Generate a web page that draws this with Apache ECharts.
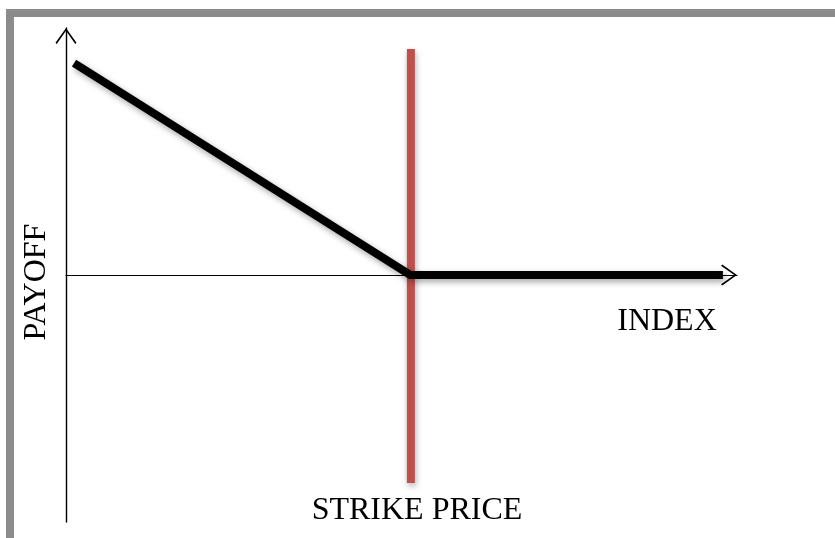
<!DOCTYPE html>
<html>
<head>
<meta charset="utf-8">
<script src="https://cdn.jsdelivr.net/npm/echarts@6/dist/echarts.min.js"></script>
<style>
  body { margin: 0; background: #fff; }
  #chart { position: absolute; left: 0; top: 0; width: 835px; height: 538px; }
  #frame { position: absolute; left: 6px; top: 9px; right: 0; bottom: 0;
           border-top: 8px solid #8c8c8c; border-left: 8px solid #8c8c8c; pointer-events: none; }
</style>
</head>
<body>
<div id="chart"></div>
<div id="frame"></div>
<script>
// payoff of a long put: falls to zero at the strike, flat after it
var payoffX = [1.2, 51.3, 97.9];
var payoffY = [8.58, 0, 0];
// vertical marker at the strike
var strikeX = [51.4, 51.4];
var strikeY = [9.15, -8.42];

var labels = ['PAYOFF', 'INDEX', 'STRIKE PRICE'];

function pairs(xs, ys) {
	var out = [];
	for (var i = 0; i < xs.length; i++) out.push([xs[i], ys[i]]);
	return out;
}

var arrowPath = 'path://M10 0 L20 14 L18.8 15.2 L10 2.6 L1.2 15.2 L0 14 Z';
var labelFont = '32px "Liberation Serif"';

var myChart = echarts.init(document.getElementById('chart'));
var option = {
	animation: false,
	backgroundColor: '#fff',
	grid: { left: 66, right: 98, top: 28, bottom: 16 },
	xAxis: {
		type: 'value', min: 0, max: 100,
		axisLine: {
			onZero: true,
			symbol: ['none', arrowPath],
			symbolSize: [21, 16],
			symbolOffset: [0, -8],
			lineStyle: { color: '#000', width: 1.2 }
		},
		axisTick: { show: false },
		axisLabel: { show: false },
		splitLine: { show: false }
	},
	yAxis: {
		type: 'value', min: -10, max: 10,
		axisLine: {
			onZero: false,
			symbol: ['none', arrowPath],
			symbolSize: [21, 16],
			symbolOffset: [0, -8],
			lineStyle: { color: '#000', width: 1.4 }
		},
		axisTick: { show: false },
		axisLabel: { show: false },
		splitLine: { show: false }
	},
	series: [
		{
			type: 'line',
			data: pairs(strikeX, strikeY),
			symbol: 'none',
			z: 2,
			lineStyle: {
				color: '#c0504d', width: 8,
				shadowColor: 'rgba(0,0,0,0.3)', shadowBlur: 6, shadowOffsetX: 1, shadowOffsetY: 3
			}
		},
		{
			type: 'line',
			data: pairs(payoffX, payoffY),
			symbol: 'none',
			z: 3,
			lineStyle: {
				color: '#000', width: 8, join: 'miter',
				shadowColor: 'rgba(0,0,0,0.35)', shadowBlur: 6, shadowOffsetX: 2, shadowOffsetY: 3
			}
		}
	],
	graphic: [
		{
			type: 'text', x: 37, y: 282, rotation: Math.PI / 2,
			style: { text: labels[0], font: labelFont, fill: '#000', align: 'center', verticalAlign: 'middle' }
		},
		{
			type: 'text', x: 667, y: 322,
			style: { text: labels[1], font: labelFont, fill: '#000', align: 'center', verticalAlign: 'middle' }
		},
		{
			type: 'text', x: 417, y: 511,
			style: { text: labels[2], font: labelFont, fill: '#000', align: 'center', verticalAlign: 'middle' }
		}
	]
};
myChart.setOption(option);
</script>
</body>
</html>
